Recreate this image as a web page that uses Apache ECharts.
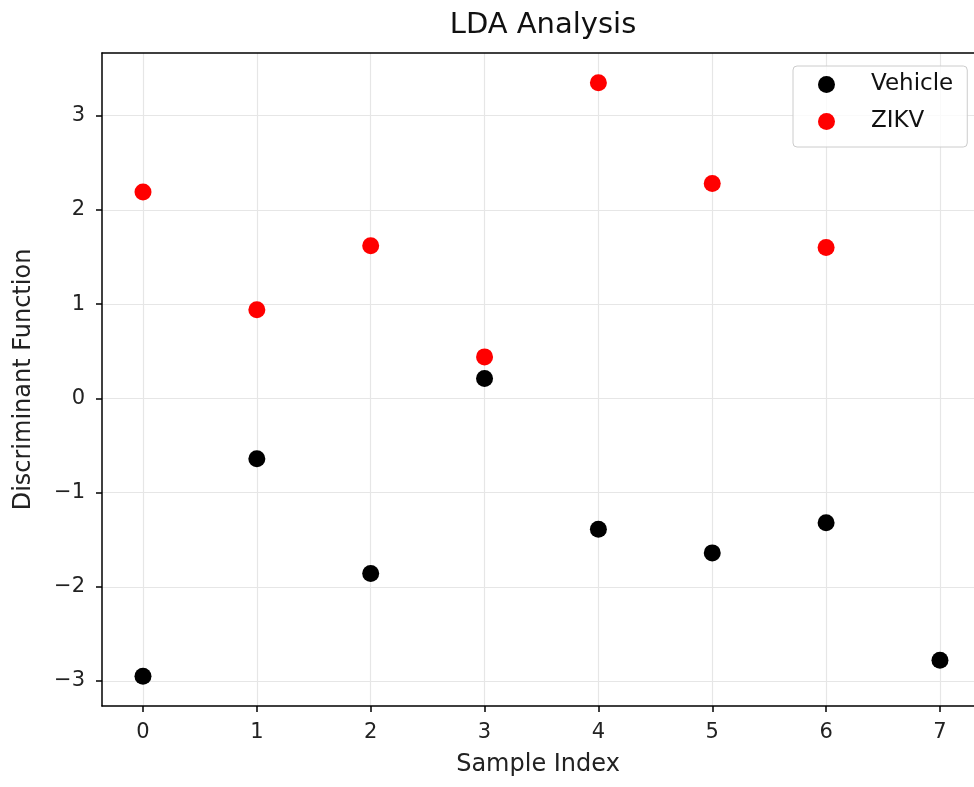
<!DOCTYPE html>
<html>
<head>
<meta charset="utf-8">
<script src="https://cdn.jsdelivr.net/npm/echarts@6/dist/echarts.min.js"></script>
<style>
  html, body { margin: 0; padding: 0; background: #fff; }
  #chart { width: 974px; height: 787px; }
</style>
</head>
<body>
<div id="chart"></div>
<script>
  // values
  var vehicleIdx = [0, 1, 2, 3, 4, 5, 6, 7];
  var vehicleVals = [-2.95, -0.64, -1.86, 0.21, -1.39, -1.64, -1.32, -2.78];
  var zikvIdx = [0, 1, 2, 3, 4, 5, 6];
  var zikvVals = [2.19, 0.94, 1.62, 0.44, 3.35, 2.28, 1.60];
  var xTicks = [0, 1, 2, 3, 4, 5, 6, 7];
  var yTicks = [-3, -2, -1, 0, 1, 2, 3];

  function pairs(xs, ys) {
    var out = [];
    for (var i = 0; i < xs.length; i++) out.push([xs[i], ys[i]]);
    return out;
  }

  var font = 'DejaVu Sans';
  var xMin = -0.36, xMax = 7.299;  // the plot runs off the right edge of the picture
  var myChart = echarts.init(document.getElementById('chart'));
  var option = {
    backgroundColor: '#fff',
    animation: false,
    title: {
      text: 'LDA Analysis',
      left: 538,
      textAlign: 'center',
      top: 6,
      textStyle: { fontFamily: font, fontSize: 29, fontWeight: 'normal', color: '#111' }
    },
    legend: {
      left: 793,
      top: 66,
      orient: 'vertical',
      padding: [7, 14, 14, 25],
      itemGap: 14,
      itemWidth: 17,
      itemHeight: 17,
      borderColor: '#cccccc',
      borderWidth: 1,
      borderRadius: 4,
      backgroundColor: 'rgba(255,255,255,0.8)',
      textStyle: { fontFamily: font, fontSize: 23, color: '#111', padding: [0, 0, 0, 31] },
      data: [
        { name: 'Vehicle', icon: 'circle' },
        { name: 'ZIKV', icon: 'circle' }
      ]
    },
    grid: {
      left: 102,
      top: 53,
      bottom: 81,
      right: 0
    },
    xAxis: [
      {
        type: 'value',
        min: xMin,
        max: xMax,
        name: 'Sample Index',
        nameLocation: 'middle',
        nameGap: 47,
        nameTextStyle: { fontFamily: font, fontSize: 24, color: '#222' },
        axisLine: { onZero: false, lineStyle: { color: '#000', width: 1.5 } },
        axisTick: { show: true, length: 6, lineStyle: { color: '#000', width: 1.5 },
          customValues: xTicks },
        axisLabel: { fontFamily: font, fontSize: 21, color: '#222', margin: 16,
          customValues: xTicks },
        splitLine: { show: true, lineStyle: { color: '#e6e6e6', width: 1.2 } }
      },
      {
        // top spine only
        type: 'value',
        position: 'top',
        min: xMin,
        max: xMax,
        axisLine: { show: true, onZero: false, lineStyle: { color: '#000', width: 1.5 } },
        axisTick: { show: false },
        axisLabel: { show: false },
        splitLine: { show: false }
      }
    ],
    yAxis: {
      type: 'value',
      min: -3.265,
      max: 3.665,
      name: 'Discriminant Function',
      nameLocation: 'middle',
      nameGap: 66,
      nameTextStyle: { fontFamily: font, fontSize: 24, color: '#222' },
      axisLine: { show: true, onZero: false, lineStyle: { color: '#000', width: 1.5 } },
      axisTick: { show: true, length: 6, lineStyle: { color: '#000', width: 1.5 },
        customValues: yTicks },
      axisLabel: {
        fontFamily: font, fontSize: 21, color: '#222', margin: 17,
        customValues: yTicks,
        formatter: function (v) { return String(v).replace('-', '\u2212'); }
      },
      splitLine: { show: true, lineStyle: { color: '#e6e6e6', width: 1.2 } }
    },
    series: [
      {
        name: 'Vehicle',
        type: 'scatter',
        symbol: 'circle',
        symbolSize: 17,
        itemStyle: { color: '#000000', opacity: 1 },
        data: pairs(vehicleIdx, vehicleVals)
      },
      {
        name: 'ZIKV',
        type: 'scatter',
        symbol: 'circle',
        symbolSize: 17,
        itemStyle: { color: '#ff0000', opacity: 1 },
        data: pairs(zikvIdx, zikvVals)
      }
    ]
  };
  myChart.setOption(option);
</script>
</body>
</html>
